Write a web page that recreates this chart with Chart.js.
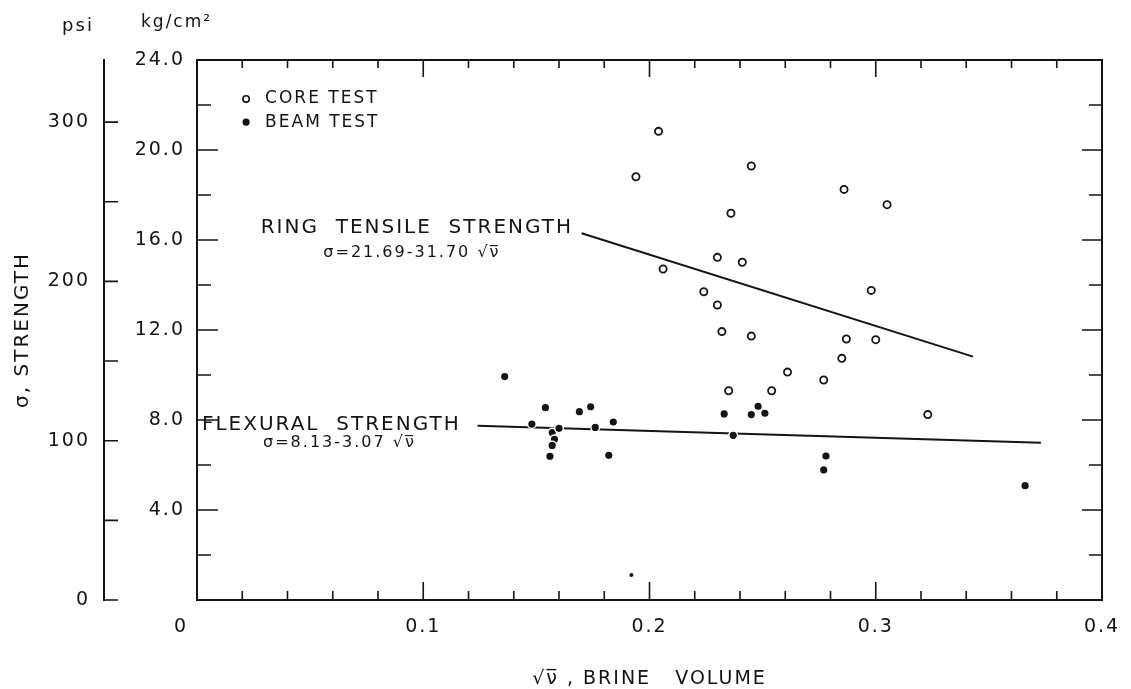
<!DOCTYPE html>
<html>
<head>
<meta charset="utf-8">
<title>Strength vs brine volume</title>
<script src="https://cdn.jsdelivr.net/npm/chart.js@4.4.1/dist/chart.umd.min.js"></script>
<style>
  html, body { margin: 0; padding: 0; background: #fff; }
  #wrap { width: 1131px; height: 689px; }
</style>
</head>
<body>
<div id="wrap"><canvas id="strengthChart" width="1131" height="689"></canvas></div>
<script>
// core (ring tensile) tests: sqrt of brine volume vs strength in kg/cm2
const coreX = [0.204, 0.194, 0.245, 0.236, 0.286, 0.305, 0.230, 0.241, 0.206, 0.224, 0.298,
               0.230, 0.232, 0.245, 0.287, 0.300, 0.285, 0.261, 0.277, 0.235, 0.254, 0.323];
const coreY = [20.83, 18.81, 19.29, 17.19, 18.25, 17.57, 15.23, 15.01, 14.71, 13.70, 13.76,
               13.11, 11.93, 11.73, 11.60, 11.57, 10.74, 10.13, 9.78, 9.30, 9.30, 8.24];

// beam (flexural) tests
const beamX = [0.136, 0.154, 0.148, 0.169, 0.174, 0.157, 0.160, 0.158, 0.157, 0.156, 0.176,
               0.184, 0.182, 0.233, 0.245, 0.248, 0.251, 0.237, 0.278, 0.277, 0.366, 0.192];
const beamY = [9.93, 8.55, 7.82, 8.37, 8.59, 7.44, 7.63, 7.14, 6.87, 6.39, 7.67,
               7.91, 6.43, 8.27, 8.24, 8.61, 8.30, 7.32, 6.40, 5.78, 5.08, 1.11];

// fitted lines: sigma = a + b * sqrt(v), and the sqrt(v) span each one covers
const ringFit = [21.69, -31.70];
const ringRange = [0.170, 0.343];
const flexFit = [8.13, -3.07];
const flexRange = [0.124, 0.373];

// axis ranges
const xRange = [0, 0.4];
const kgRange = [0, 24];
const psiRange = [0, 339];

const INK = '#141414';
const FAMILY = '"DejaVu Sans", sans-serif';

const near = (v, step) => Math.abs(v / step - Math.round(v / step)) < 1e-6;
const fitPoints = (fit, range) => range.map(v => ({ x: v, y: fit[0] + fit[1] * v }));

function text(ctx, str, x, y, size, align) {
  ctx.font = `${size}px ${FAMILY}`;
  ctx.textAlign = align || 'left';
  ctx.textBaseline = 'middle';
  ctx.fillText(str, x, y);
}

// lettering is spaced out a little, and ticks point into the frame
const lettering = {
  id: 'lettering',
  beforeDraw(chart) { chart.ctx.letterSpacing = '2px'; }
};

const inwardTicks = {
  id: 'inwardTicks',
  afterDraw(chart) {
    const { ctx, chartArea: a, scales } = chart;
    ctx.save();
    ctx.strokeStyle = INK;
    ctx.lineWidth = 1.6;
    ctx.beginPath();
    scales.x.ticks.forEach(t => {
      if (!near(t.value, 0.02)) return;
      const px = scales.x.getPixelForValue(t.value);
      const major = near(t.value, 0.1);
      ctx.moveTo(px, a.bottom); ctx.lineTo(px, a.bottom - (major ? 18 : 9));
      ctx.moveTo(px, a.top); ctx.lineTo(px, a.top + (major ? 17 : 8));
    });
    scales.y.ticks.forEach(t => {
      const py = scales.y.getPixelForValue(t.value);
      const major = near(t.value, 4);
      ctx.moveTo(a.left, py); ctx.lineTo(a.left + (major ? 21 : 14), py);
      ctx.moveTo(a.right, py); ctx.lineTo(a.right - (major ? 20 : 13), py);
    });
    const psi = scales.psi;
    psi.ticks.forEach(t => {
      if (!near(t.value, 50)) return;
      const py = psi.getPixelForValue(t.value);
      ctx.moveTo(psi.right, py); ctx.lineTo(psi.right + 14, py);
    });
    ctx.stroke();
    ctx.restore();
  }
};

// key, curve names and unit headings
const notes = {
  id: 'notes',
  afterDraw(chart) {
    const { ctx, scales: { x, y } } = chart;
    ctx.save();
    ctx.fillStyle = INK;
    ctx.strokeStyle = INK;

    // key
    const kx = x.getPixelForValue(0.0217);
    const k1 = y.getPixelForValue(22.27), k2 = y.getPixelForValue(21.24);
    ctx.lineWidth = 1.6;
    ctx.beginPath(); ctx.arc(kx, k1, 3.2, 0, Math.PI * 2); ctx.stroke();
    ctx.beginPath(); ctx.arc(kx, k2, 3.6, 0, Math.PI * 2); ctx.fill();
    text(ctx, 'CORE TEST', kx + 19, k1, 17);
    text(ctx, 'BEAM TEST', kx + 19, k2, 17);

    // curve names
    text(ctx, 'RING  TENSILE  STRENGTH', x.getPixelForValue(0.1662), y.getPixelForValue(16.53), 20, 'right');
    text(ctx, 'σ=21.69-31.70 √ν̅', x.getPixelForValue(0.0950), y.getPixelForValue(15.45), 16, 'center');
    text(ctx, 'FLEXURAL  STRENGTH', x.getPixelForValue(0.0022), y.getPixelForValue(7.78), 20);
    text(ctx, 'σ=8.13-3.07 √ν̅', x.getPixelForValue(0.0292), y.getPixelForValue(7.0), 16);

    // unit headings
    text(ctx, 'psi', 78, 26, 18, 'center');
    text(ctx, 'kg/cm²', 141, 23, 17);
    ctx.restore();
  }
};

const tickFont = { family: FAMILY, size: 19 };

new Chart(document.getElementById('strengthChart'), {
  type: 'scatter',
  data: {
    datasets: [
      {
        label: 'Ring tensile fit',
        data: fitPoints(ringFit, ringRange),
        xAxisID: 'x', yAxisID: 'y',
        showLine: true, borderColor: INK, borderWidth: 2, pointRadius: 0, order: 2
      },
      {
        label: 'Flexural fit',
        data: fitPoints(flexFit, flexRange),
        xAxisID: 'x', yAxisID: 'y',
        showLine: true, borderColor: INK, borderWidth: 2, pointRadius: 0, order: 2
      },
      {
        label: 'Core test',
        data: coreX.map((v, i) => ({ x: v, y: coreY[i] })),
        xAxisID: 'x', yAxisID: 'y',
        pointRadius: 3.6, pointBorderWidth: 1.8,
        pointBackgroundColor: '#fff', pointBorderColor: INK, order: 1
      },
      {
        label: 'Beam test',
        data: beamX.map((v, i) => ({ x: v, y: beamY[i] })),
        xAxisID: 'x', yAxisID: 'y',
        pointRadius: beamY.map(v => (v < 2 ? 2.7 : 4.3)), pointBorderWidth: 1.4,
        pointBackgroundColor: INK, pointBorderColor: '#fff', order: 0
      }
    ]
  },
  options: {
    responsive: false,
    animation: false,
    events: [],
    layout: { padding: 0 },
    plugins: { legend: { display: false }, tooltip: { enabled: false } },
    scales: {
      x: {
        type: 'linear', position: 'bottom', min: xRange[0], max: xRange[1],
        afterFit: s => { s.height = 89; },
        grid: { display: false },
        border: { display: true, color: INK, width: 2 },
        ticks: {
          stepSize: 0.02, autoSkip: false, maxRotation: 0, padding: 8,
          color: INK, font: tickFont,
          callback: v => (near(v, 0.1) ? (v === 0 ? '0    ' : v.toFixed(1)) : '')
        },
        title: {
          display: true, text: '√ν̅ , BRINE   VOLUME', color: INK,
          font: { family: FAMILY, size: 19, lineHeight: 1 }, padding: { top: 0, bottom: 0 }
        }
      },
      x2: {
        type: 'linear', position: 'top', min: xRange[0], max: xRange[1],
        afterFit: s => { s.height = 60; },
        grid: { display: false },
        border: { display: true, color: INK, width: 2 },
        ticks: { display: false }
      },
      psi: {
        type: 'linear', position: 'left', weight: 1, min: psiRange[0], max: psiRange[1],
        afterFit: s => { s.width = 104; },
        grid: { display: false },
        border: { display: true, color: INK, width: 2 },
        ticks: {
          stepSize: 50, padding: 6, color: INK, font: tickFont,
          callback: v => (near(v, 100) ? String(v) : '')
        },
        title: {
          display: true, text: 'σ, STRENGTH', color: INK,
          font: { family: FAMILY, size: 20, lineHeight: 1.2 }, padding: { top: 11, bottom: 0 }
        }
      },
      y: {
        type: 'linear', position: 'left', weight: 0, min: kgRange[0], max: kgRange[1],
        afterFit: s => { s.width = 93; },
        grid: { display: false },
        border: { display: true, color: INK, width: 2 },
        ticks: {
          stepSize: 2, padding: 4, color: INK, font: tickFont,
          callback: v => (near(v, 4) && v > 0 ? v.toFixed(1) : '')
        }
      },
      y2: {
        type: 'linear', position: 'right', min: kgRange[0], max: kgRange[1],
        afterFit: s => { s.width = 29; },
        grid: { display: false },
        border: { display: true, color: INK, width: 2 },
        ticks: { display: false }
      }
    }
  },
  plugins: [lettering, inwardTicks, notes]
});
</script>
</body>
</html>
